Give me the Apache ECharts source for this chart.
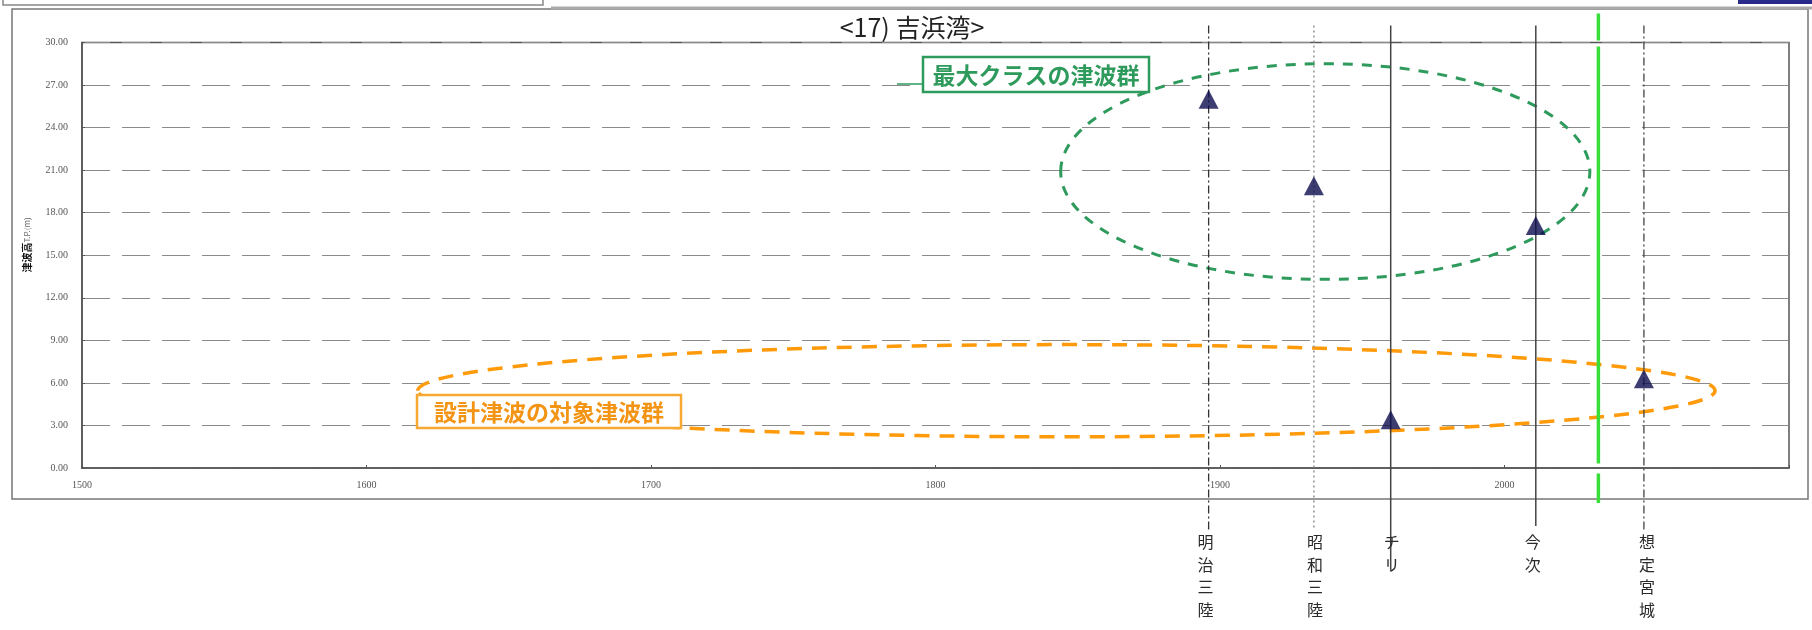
<!DOCTYPE html>
<html><head><meta charset="utf-8">
<script src="https://cdn.jsdelivr.net/npm/echarts@6/dist/echarts.min.js"></script>
<style>html,body{margin:0;padding:0;background:#fff}#c{width:1812px;height:630px}</style>
</head><body><div id="c"></div>
<script>
// ---- data ----
const eventYears = [1896, 1933, 1960, 2011, 2049];
const eventNames = ['明治三陸', '昭和三陸', 'チリ', '今次', '想定宮城'];
const tsunamiHeights = [26.0, 19.9, 3.4, 17.1, 6.3];
const boundaryYear = [2033];
// cluster ellipses: [centerYear, centerHeight, radiusYears, radiusHeight]
const maxClassCluster = [1937, 20.9, 93, 7.6];
const designCluster = [1846, 5.45, 228, 3.25];
const yTickValues = [0, 3, 6, 9, 12, 15, 18, 21, 24, 27, 30];
const xTickValues = [1500, 1600, 1700, 1800, 1900, 2000];

// ---- styles (kept separate from data) ----
const eventLineStyles = [
  {stroke: '#333', lineWidth: 1.3, lineDash: [8, 3, 2, 3], ext: 62, dx: -3},
  {stroke: '#999', lineWidth: 1.6, lineDash: [2, 3], ext: 62, dx: 1},
  {stroke: '#444', lineWidth: 1.5, lineDash: null, ext: 102, dx: 1},
  {stroke: '#444', lineWidth: 1.5, lineDash: null, ext: 58, dx: -3},
  {stroke: '#444', lineWidth: 1.3, lineDash: [8, 3, 2, 3], ext: 62, dx: 3}
];

const chart = echarts.init(document.getElementById('c'), null, {renderer: 'canvas'});

function ellipseItem(style) {
  return function (params, api) {
    const c = api.coord([api.value(0), api.value(1)]);
    const e = api.coord([api.value(0) + api.value(2), api.value(1) + api.value(3)]);
    return {
      type: 'ellipse',
      shape: {cx: c[0], cy: c[1], rx: e[0] - c[0], ry: c[1] - e[1]},
      style: Object.assign({fill: 'none'}, style)
    };
  };
}

const option = {
  animation: false,
  backgroundColor: '#fff',
  grid: {left: 82, top: 42.5, right: 23, bottom: 162, show: true, borderColor: '#555', borderWidth: 1.5, containLabel: false},
  xAxis: {
    type: 'value', min: 1500, max: 2100, interval: 100,
    axisLine: {show: true, lineStyle: {color: '#555', width: 1.5}},
    axisTick: {show: true, inside: true, length: 3, lineStyle: {color: '#555'}},
    axisLabel: {
      margin: 12, fontSize: 10, color: '#555', fontFamily: 'Liberation Serif',
      formatter: v => xTickValues.indexOf(v) >= 0 ? String(v) : ''
    },
    splitLine: {show: false}
  },
  yAxis: {
    type: 'value', min: 0, max: 30, interval: 3,
    axisLine: {show: true, lineStyle: {color: '#555', width: 1.5}},
    axisTick: {show: true, inside: true, length: 3, lineStyle: {color: '#555'}},
    axisLabel: {
      margin: 14, fontSize: 10, color: '#555', fontFamily: 'Liberation Serif',
      formatter: v => yTickValues.indexOf(v) >= 0 ? v.toFixed(2) : ''
    },
    splitLine: {show: true, lineStyle: {color: '#8a8a8a', width: 1, type: [28, 12]}}
  },
  series: [
    {
      type: 'custom', name: 'maxClass', coordinateSystem: 'cartesian2d', z: 3, clip: false,
      data: [maxClassCluster],
      renderItem: ellipseItem({stroke: '#2e9a5c', lineWidth: 3, lineDash: [10, 9]})
    },
    {
      type: 'custom', name: 'design', coordinateSystem: 'cartesian2d', z: 3, clip: false,
      data: [designCluster],
      renderItem: ellipseItem({stroke: '#ff9a0a', lineWidth: 3.5, lineDash: [15, 10]})
    },
    {
      type: 'custom', name: 'events', coordinateSystem: 'cartesian2d', z: 4, clip: false,
      data: eventYears.map((y, i) => [y, i]),
      renderItem: function (params, api) {
        const i = api.value(1);
        const st = eventLineStyles[i];
        const top = api.coord([api.value(0), 30]);
        const bot = api.coord([api.value(0), 0]);
        const x = top[0];
        return {
          type: 'group',
          children: [
            {type: 'line', shape: {x1: x, y1: top[1] - 17, x2: x, y2: bot[1] + st.ext},
             style: {stroke: st.stroke, lineWidth: st.lineWidth, lineDash: st.lineDash}},
            {type: 'text', z2: 5,
             style: {text: eventNames[i].split('').join('\n'), x: x + st.dx, y: bot[1] + 63,
                     align: 'center', verticalAlign: 'top', fontSize: 16, lineHeight: 22.5,
                     fontFamily: 'Noto Sans CJK JP', fill: '#2a2a2a'}}
          ]
        };
      }
    },
    {
      type: 'custom', name: 'boundary', coordinateSystem: 'cartesian2d', z: 4, clip: false,
      data: boundaryYear.map(y => [y]),
      renderItem: function (params, api) {
        const top = api.coord([api.value(0), 30]);
        const bot = api.coord([api.value(0), 0]);
        return {type: 'line', shape: {x1: top[0], y1: top[1] - 29, x2: top[0], y2: bot[1] + 35},
                style: {stroke: '#3ade3a', lineWidth: 3.5, lineDash: [27, 6, 417, 10, 40]}};
      }
    },
    {
      type: 'scatter', name: 'height', z: 6,
      symbol: 'triangle', symbolSize: [20, 19],
      itemStyle: {color: '#0c0c4e'},
      data: eventYears.map((y, i) => [y, tsunamiHeights[i]])
    }
  ],
  graphic: [
    {type: 'rect', z: -1, shape: {x: 12, y: 9, width: 1796, height: 490}, style: {fill: 'none', stroke: '#777', lineWidth: 1.5}},
    {type: 'rect', shape: {x: 3, y: -4, width: 540, height: 9}, style: {fill: 'none', stroke: '#888', lineWidth: 1.5}},
    {type: 'line', shape: {x1: 551, y1: 8, x2: 1812, y2: 8}, style: {stroke: '#aaa', lineWidth: 3}},
    {type: 'rect', shape: {x: 1738, y: 0, width: 74, height: 4}, style: {fill: '#2a2a8a'}},
    {type: 'text', style: {text: '<17) 吉浜湾>', x: 912, y: 27, align: 'center', verticalAlign: 'middle',
      fontSize: 25, fontFamily: 'Noto Sans CJK JP', fill: '#222'}},
    {type: 'text', rotation: Math.PI / 2, x: 27, y: 245,
      style: {text: '{b|津波高}{s|T.P.(m)}', align: 'center', verticalAlign: 'middle',
        rich: {b: {fontSize: 10, fontWeight: 'bold', fontFamily: 'Noto Sans CJK JP', fill: '#111'},
               s: {fontSize: 8, fontFamily: 'Noto Sans CJK JP', fill: '#666'}}}},
    {type: 'line', z: 10, shape: {x1: 897, y1: 84, x2: 923, y2: 84}, style: {stroke: '#2e9a5c', lineWidth: 1.5}},
    {type: 'rect', z: 10, shape: {x: 923, y: 57, width: 226, height: 35}, style: {fill: '#fff', stroke: '#2e9a5c', lineWidth: 2.5}},
    {type: 'text', z: 11, style: {text: '最大クラスの津波群', x: 1036, y: 75, align: 'center', verticalAlign: 'middle',
      fontSize: 23, fontWeight: 'bold', fontFamily: 'Noto Sans CJK JP', fill: '#2e9a5c'}},
    {type: 'rect', z: 10, shape: {x: 417, y: 395, width: 264, height: 33}, style: {fill: '#fff', stroke: '#f7a832', lineWidth: 2.5}},
    {type: 'text', z: 11, style: {text: '設計津波の対象津波群', x: 549, y: 412, align: 'center', verticalAlign: 'middle',
      fontSize: 23, fontWeight: 'bold', fontFamily: 'Noto Sans CJK JP', fill: '#f39414'}}
  ]
};
chart.setOption(option);
</script>
</body></html>
